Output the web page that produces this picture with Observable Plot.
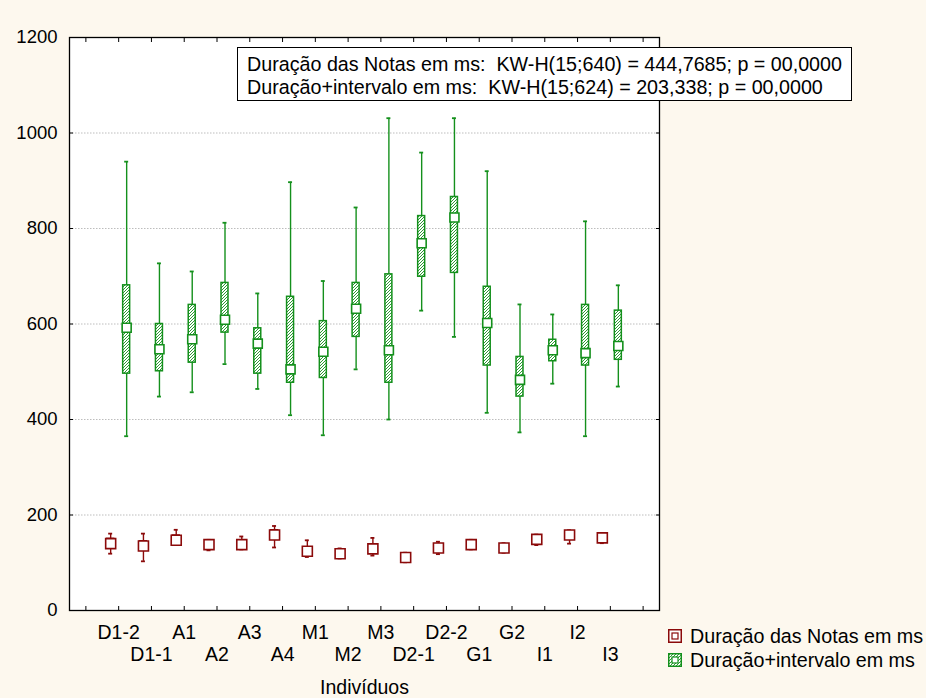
<!DOCTYPE html>
<html lang="pt">
<head>
<meta charset="utf-8">
<script src="https://cdn.jsdelivr.net/npm/d3@7"></script>
<script src="https://cdn.jsdelivr.net/npm/@observablehq/plot@0.6"></script>
<style>
  html, body { margin: 0; padding: 0; background: #fdf8ee; }
  #wrap { position: relative; width: 926px; height: 698px; font-family: "Liberation Sans", Arial, sans-serif; color: #000; }
  #stats { position: absolute; left: 237px; top: 47px; width: 615px; height: 54px; box-sizing: border-box;
           border: 1px solid #000; background: #fff; padding: 5px 0 0 9px; font-size: 19.7px; line-height: 23px; white-space: nowrap; }
  #legend { position: absolute; left: 668px; top: 624px; font-size: 19.7px; line-height: 24px; white-space: nowrap; }
  #legend div { display: flex; align-items: center; }
  #legend svg { margin-right: 8px; }
</style>
</head>
<body>
<div id="wrap">
  <div id="chart"></div>
  <div id="stats">
    <div>Duração das Notas em ms:&nbsp; KW-H(15;640) = 444,7685; p = 00,0000</div>
    <div>Duração+intervalo em ms:&nbsp; KW-H(15;624) = 203,338; p = 00,0000</div>
  </div>
  <div id="legend"></div>
</div>
<script>
// Individuals on the x axis
const individuos = ["D1-2","D1-1","A1","A2","A3","A4","M1","M2","M3","D2-1","D2-2","G1","G2","I1","I2","I3"];

// Duração das Notas em ms: min, quartis, mediana, max
const notasMin = [119,103,137,126,128,132,112,109,115,101,118,128,121,137,140,141];
const notasQ1  = [130,125,137,130,132,148,116,113,122,105,124,132,125,142,150,146];
const notasMed = [140,135,147,138,138,158,124,119,129,111,131,138,131,149,158,152];
const notasQ3  = [150,145,157,146,146,168,132,127,137,117,138,146,137,156,166,160];
const notasMax = [161,161,169,148,155,177,147,130,152,121,144,148,141,159,168,162];

// Duração+intervalo em ms: min, quartis, mediana, max
const totalMin = [365,448,457,516,464,409,367,505,400,628,573,414,373,475,365,469];
const totalQ1  = [496,501,519,582,496,477,487,573,477,699,707,513,448,522,513,525];
const totalMed = [592,547,568,609,559,505,542,632,545,769,823,602,483,545,539,554];
const totalQ3  = [681,600,640,686,591,657,606,686,704,826,866,678,531,567,640,628];
const totalMax = [940,727,710,812,664,897,690,844,1031,959,1031,920,641,620,815,681];

const yTicks = [0,200,400,600,800,1000,1200];

const vermelho = "#8b0a0a";
const verde = "#14901c";

const notas = individuos.map((cat, i) => ({cat, min: notasMin[i], q1: notasQ1[i], med: notasMed[i], q3: notasQ3[i], max: notasMax[i]}));
const total = individuos.map((cat, i) => ({cat, min: totalMin[i], q1: totalQ1[i], med: totalMed[i], q3: totalQ3[i], max: totalMax[i]}));

// empty slots at both ends of the axis
const xDomain = ["", ...individuos, " "];

function boxMarks(data, color, dx, fill, side) {
  return [
    Plot.ruleX(data, {x: "cat", y1: "min", y2: "max", dx, stroke: color, strokeWidth: 1.4}),
    Plot.tickY(data, {x: "cat", y: "min", dx, insetLeft: 14.4, insetRight: 14.4, stroke: color, strokeWidth: 1.8}),
    Plot.tickY(data, {x: "cat", y: "max", dx, insetLeft: 14.4, insetRight: 14.4, stroke: color, strokeWidth: 1.8}),
    Plot.barY(data, {x: "cat", y1: "q1", y2: "q3", dx, insetLeft: 12.9, insetRight: 12.9, fill, stroke: color, strokeWidth: 1.5}),
    Plot.dot(data, {x: "cat", y: "med", dx, symbol: "square", r: side / Math.sqrt(Math.PI), fill: "white", stroke: color, strokeWidth: 1.6})
  ];
}

const chart = Plot.plot({
  width: 926,
  height: 698,
  marginLeft: 69,
  marginRight: 267,
  marginTop: 37,
  marginBottom: 88,
  style: {fontFamily: "'Liberation Sans', Arial, sans-serif", fontSize: "19px", background: "transparent", color: "#000", overflow: "visible"},
  x: {type: "band", domain: xDomain, padding: 0, round: false, label: null},
  y: {domain: [0, 1200], label: null},
  marks: [
    Plot.frame({fill: "white", stroke: "none"}),
    Plot.gridY(yTicks.filter(v => v > 0 && v < 1200), {stroke: "#bdbdbd", strokeOpacity: 1, strokeDasharray: "1.5,1.5"}),
    ...boxMarks(total, verde, 8, "url(#hachura)", 9),
    ...boxMarks(notas, vermelho, -8, "white", 10),
    // inward ticks on all four sides
    Plot.axisX({anchor: "bottom", ticks: xDomain, tickSize: -4, tickFormat: () => "", label: null}),
    Plot.axisX({anchor: "top", ticks: xDomain, tickSize: -4, tickFormat: () => "", label: null}),
    Plot.axisY({anchor: "left", ticks: yTicks, tickSize: -4, tickPadding: 16, tickFormat: d => String(d), label: null, fontSize: 18.5}),
    Plot.axisY({anchor: "right", ticks: yTicks, tickSize: -4, tickFormat: () => "", label: null}),
    // category labels in two staggered rows
    Plot.axisX({anchor: "bottom", ticks: individuos.filter((_, i) => i % 2 === 0), tickSize: 0, tickPadding: 15, label: null, fontSize: 19.5}),
    Plot.axisX({anchor: "bottom", ticks: individuos.filter((_, i) => i % 2 === 1), tickSize: 0, tickPadding: 37, label: null, fontSize: 19.5}),
    Plot.text(["Indivíduos"], {frameAnchor: "bottom", dy: 77, lineAnchor: "middle", fontSize: 19.5}),
    Plot.frame({stroke: "#000", strokeWidth: 1.3})
  ]
});

chart.insertAdjacentHTML("afterbegin",
  `<defs><pattern id="hachura" patternUnits="userSpaceOnUse" width="3" height="3">
     <rect width="3" height="3" fill="#ffffff"/>
     <path d="M-1,1 l2,-2 M0,3 l3,-3 M2,4 l2,-2" stroke="${verde}" stroke-width="0.9"/>
   </pattern></defs>`);
document.getElementById("chart").appendChild(chart);

// legend
const legenda = [
  {label: "Duração das Notas em ms", color: vermelho, fill: "white"},
  {label: "Duração+intervalo em ms", color: verde, fill: "url(#hachuraLeg)"}
];
const leg = document.getElementById("legend");
legenda.forEach(item => {
  const row = document.createElement("div");
  row.innerHTML = `<svg width="14" height="14" viewBox="0 0 14 14">
      <defs><pattern id="hachuraLeg" patternUnits="userSpaceOnUse" width="3" height="3">
        <rect width="3" height="3" fill="#fff"/>
        <path d="M-1,1 l2,-2 M0,3 l3,-3 M2,4 l2,-2" stroke="${verde}" stroke-width="0.9"/></pattern></defs>
      <rect x="0.75" y="0.75" width="12.5" height="12.5" fill="${item.fill}" stroke="${item.color}" stroke-width="1.5"/>
      <rect x="4" y="4" width="6" height="6" fill="white" stroke="${item.color}" stroke-width="1.2"/>
    </svg><span>${item.label}</span>`;
  leg.appendChild(row);
});
</script>
</body>
</html>
